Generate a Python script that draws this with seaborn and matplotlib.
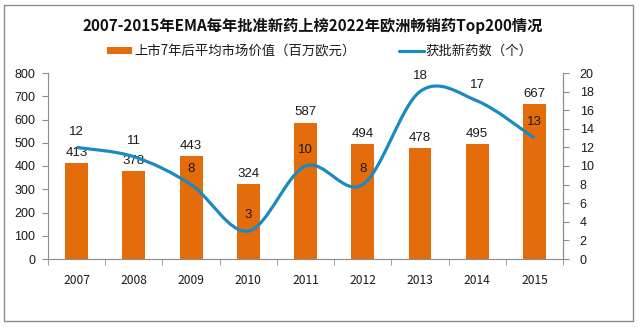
import numpy as np
import pandas as pd
import matplotlib
matplotlib.use("Agg")
import matplotlib.pyplot as plt
from matplotlib.path import Path
from matplotlib.patches import PathPatch, Rectangle, Patch
from matplotlib.lines import Line2D
import seaborn as sns

# ---- data ----
years = ["2007", "2008", "2009", "2010", "2011", "2012", "2013", "2014", "2015"]
market_value = [413, 378, 443, 324, 587, 494, 478, 495, 667]   # 百万欧元
approvals = [12, 11, 8, 3, 10, 8, 18, 17, 13]                  # 个

title = "2007-2015年EMA每年批准新药上榜2022年欧洲畅销药Top200情况"
bar_label = "上市7年后平均市场价值（百万欧元）"
line_label = "获批新药数（个）"

BAR_COLOR = "#E46C0A"
LINE_COLOR = "#1B8AC0"
AXIS_COLOR = "#8C8C8C"
TEXT_COLOR = "#1A1A1A"
CJK = ["Noto Sans CJK SC", "DejaVu Sans"]

sns.set_style("ticks")
plt.rcParams["font.family"] = ["Liberation Sans", "Noto Sans CJK SC", "DejaVu Sans"]
plt.rcParams["text.color"] = TEXT_COLOR

W, H = 640, 327
fig = plt.figure(figsize=(W / 100, H / 100), dpi=100)
ax = fig.add_axes([48 / W, 1 - 259 / H, 515 / W, 186 / H])

df = pd.DataFrame({"year": years, "value": market_value})
sns.barplot(data=df, x="year", y="value", color=BAR_COLOR, saturation=1,
            width=0.4, linewidth=0, ax=ax)

ax.set_xlim(-0.5, len(years) - 0.5)
ax.set_ylim(0, 800)
ax.set_yticks(np.arange(0, 801, 100))
ax.set_xlabel("")
ax.set_ylabel("")

# category labels at centres, tick marks at the boundaries
ax.set_xticks(np.arange(len(years)))
ax.set_xticklabels(years, fontsize=8.7, family=CJK)
ax.set_xticks(np.arange(-0.5, len(years), 1.0), minor=True)
ax.tick_params(axis="x", which="major", length=0, pad=11, colors=TEXT_COLOR)
ax.tick_params(axis="x", which="minor", length=4, color=AXIS_COLOR, direction="out")
ax.tick_params(axis="y", length=4, color=AXIS_COLOR, direction="out",
               labelsize=9, pad=5, labelcolor=TEXT_COLOR)

for side in ["left", "bottom", "right"]:
    ax.spines[side].set_color(AXIS_COLOR)
    ax.spines[side].set_linewidth(0.8)
ax.spines["top"].set_visible(False)

for i, v in enumerate(market_value):
    ax.annotate(str(v), (i, v), xytext=(0, 3), textcoords="offset points",
                ha="center", va="bottom", fontsize=9.5, color=TEXT_COLOR)

# ---- secondary axis: smoothed approvals line ----
ax2 = ax.twinx()
ax2.set_ylim(0, 20)
ax2.set_yticks(np.arange(0, 21, 2))
ax2.set_xlim(ax.get_xlim())
ax2.tick_params(axis="y", length=4, color=AXIS_COLOR, direction="out",
                labelsize=9, pad=8, labelcolor=TEXT_COLOR)
for side in ["left", "bottom", "top"]:
    ax2.spines[side].set_visible(False)
ax2.spines["right"].set_color(AXIS_COLOR)
ax2.spines["right"].set_linewidth(0.8)

pts = np.column_stack([np.arange(len(approvals)), approvals]).astype(float)
n = len(pts)
verts = [tuple(pts[0])]
codes = [Path.MOVETO]
for i in range(n - 1):
    p0 = pts[i - 1] if i > 0 else pts[i]
    p1, p2 = pts[i], pts[i + 1]
    p3 = pts[i + 2] if i + 2 < n else pts[i + 1]
    c1 = p1 + (p2 - p0) / 6.0
    c2 = p2 - (p3 - p1) / 6.0
    verts += [tuple(c1), tuple(c2), tuple(p2)]
    codes += [Path.CURVE4] * 3
curve = PathPatch(Path(verts, codes), facecolor="none", edgecolor=LINE_COLOR,
                  lw=2.3, joinstyle="round", capstyle="butt",
                  transform=ax2.transData)
ax2.add_patch(curve)

for i, v in enumerate(approvals):
    ax2.annotate(str(v), (i, v), xytext=(0, 7), textcoords="offset points",
                 ha="center", va="bottom", fontsize=9.5, color=TEXT_COLOR)

# ---- title, legend, frame ----
fig.text(0.489, 1 - 26 / H, title, ha="center", va="center", fontsize=11,
         fontweight="bold", family=CJK, color="#111111")

handles = [Patch(facecolor=BAR_COLOR, edgecolor="none", label=bar_label),
           Line2D([], [], color=LINE_COLOR, lw=2.3, label=line_label)]
fig.legend(handles=handles, loc="center", bbox_to_anchor=(0.5, 1 - 51 / H),
           ncol=2, frameon=False, prop={"family": CJK, "size": 9.6},
           handlelength=1.9, handleheight=0.45, handletextpad=0.15,
           columnspacing=3.2)

fig.add_artist(Rectangle((4 / W, 1 - 321 / H), 629 / W, 316 / H,
                         transform=fig.transFigure, fill=False,
                         edgecolor=AXIS_COLOR, lw=1))

fig.savefig("out.png", dpi=100)
